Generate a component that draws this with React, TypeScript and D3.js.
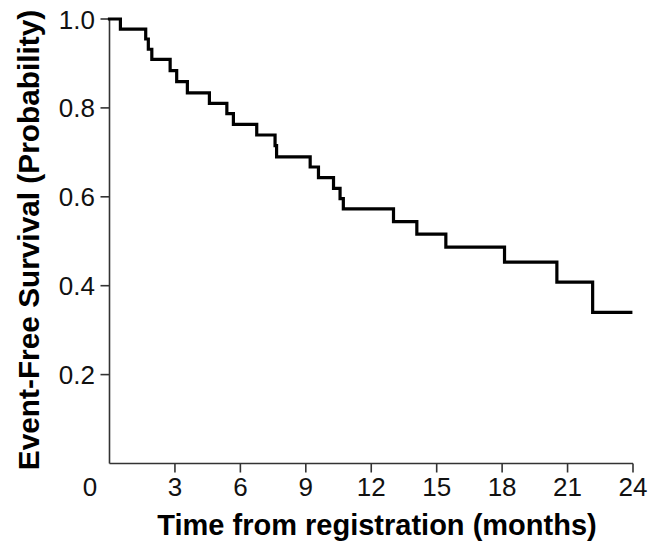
import React from "react";
import * as d3 from "d3";

const eventTimes = [0.5, 1.66, 1.78, 1.94, 2.78, 3.08, 3.57, 4.58, 5.38, 5.68, 6.75, 7.59, 7.66, 9.2, 9.58, 10.27, 10.57, 10.72, 13.02, 14.09, 15.42, 18.11, 20.51, 22.15];
const survival = [0.977, 0.955, 0.932, 0.909, 0.884, 0.859, 0.834, 0.81, 0.787, 0.763, 0.739, 0.715, 0.69, 0.667, 0.643, 0.619, 0.596, 0.573, 0.544, 0.516, 0.487, 0.453, 0.408, 0.34];
const lastFollowUp = 23.9;
const xTicks = [3, 6, 9, 12, 15, 18, 21, 24];
const yTicks = [0.2, 0.4, 0.6, 0.8, 1.0];

const W = 670;
const H = 550;
const FONT = "'Liberation Sans', Arial, Helvetica, sans-serif";

export default function App() {
  const x = d3.scaleLinear().domain([0, 24]).range([109.5, 633]);
  const y = d3.scaleLinear().domain([0, 1]).range([463.5, 19]);

  const pts: [number, number][] = [[0, 1]];
  eventTimes.forEach((t, i) => pts.push([t, survival[i]]));
  pts.push([lastFollowUp, survival[survival.length - 1]]);

  const line = d3
    .line<[number, number]>()
    .x((d) => x(d[0]))
    .y((d) => y(d[1]))
    .curve(d3.curveStepAfter);

  const axisColor = "#333";

  return (
    <svg
      width={W}
      height={H}
      style={{ position: "absolute", left: 0, top: 0, background: "#fff" }}
      fontFamily={FONT}
    >
      {/* y axis */}
      <line x1={x(0)} x2={x(0)} y1={y(1)} y2={y(0)} stroke={axisColor} strokeWidth={1.6} />
      {yTicks.map((v) => (
        <g key={v}>
          <line x1={x(0) - 9} x2={x(0)} y1={y(v)} y2={y(v)} stroke={axisColor} strokeWidth={1.6} />
          <text x={95} y={y(v) + 9.5} textAnchor="end" fontSize={26} fill="#111">
            {d3.format(".1f")(v)}
          </text>
        </g>
      ))}
      {/* x axis */}
      <line x1={x(0)} x2={x(24)} y1={y(0)} y2={y(0)} stroke={axisColor} strokeWidth={1.6} />
      {xTicks.map((t) => (
        <g key={t}>
          <line x1={x(t)} x2={x(t)} y1={y(0)} y2={y(0) + 9} stroke={axisColor} strokeWidth={1.6} />
          <text x={x(t)} y={496} textAnchor="middle" fontSize={26} fill="#111">
            {t}
          </text>
        </g>
      ))}
      <text x={90} y={496} textAnchor="middle" fontSize={26} fill="#111">
        0
      </text>
      {/* curve */}
      <path d={line(pts) || ""} fill="none" stroke="#000" strokeWidth={3.2} strokeLinejoin="miter" strokeLinecap="square" />
      {/* axis titles */}
      <text x={377} y={535} textAnchor="middle" fontSize={29} fontWeight="bold" fill="#000">
        Time from registration (months)
      </text>
      <text
        transform={`translate(38.5,240) rotate(-90)`}
        textAnchor="middle"
        fontSize={29.8}
        fontWeight="bold"
        fill="#000"
      >
        Event-Free Survival (Probability)
      </text>
    </svg>
  );
}
